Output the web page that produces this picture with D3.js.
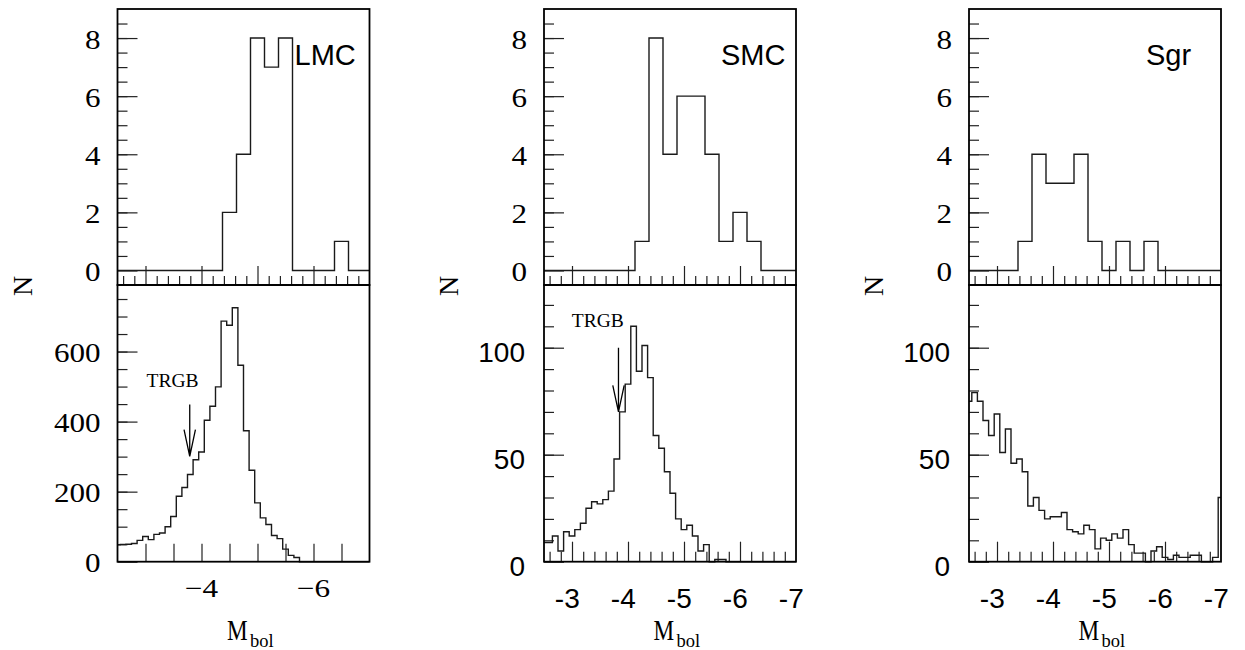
<!DOCTYPE html>
<html><head><meta charset="utf-8">
<script src="https://cdn.jsdelivr.net/npm/d3@7"></script>
<style>html,body{margin:0;padding:0;background:#fff;} svg{display:block;}</style>
</head><body>
<svg id="chart" width="1245" height="650"></svg>
<script>
// ---------------- DATA ----------------
const galaxies = ["LMC", "SMC", "Sgr"];

// upper histograms: bin centres (Mbol), 0.25 mag bins
const topCenters = [-2.5,-2.75,-3,-3.25,-3.5,-3.75,-4,-4.25,-4.5,-4.75,-5,-5.25,-5.5,-5.75,-6,-6.25,-6.5,-6.75,-7];
const lmcTop = [0,0,0,0,0,0,0,0,2,4,8,7,8,0,0,0,1,0,0];
const smcTop = [0,0,0,0,0,0,0,1,8,4,6,6,4,1,2,1,0,0,0];
const sgrTop = [0,0,0,0,1,4,3,3,4,1,0,1,0,1,0,0,0,0,0];

// lower histograms: bin centres (Mbol), 0.1 mag bins
const botCenters = [-2.5,-2.6,-2.7,-2.8,-2.9,-3.0,-3.1,-3.2,-3.3,-3.4,-3.5,-3.6,-3.7,-3.8,-3.9,
  -4.0,-4.1,-4.2,-4.3,-4.4,-4.5,-4.6,-4.7,-4.8,-4.9,-5.0,-5.1,-5.2,-5.3,-5.4,-5.5,-5.6,-5.7,-5.8,-5.9,
  -6.0,-6.1,-6.2,-6.3,-6.4,-6.5,-6.6,-6.7,-6.8,-6.9,-7.0];
const lmcBot = [48,49,50,52,61,72,63,78,82,100,129,187,212,249,291,
  313,404,444,499,687,675,725,561,374,261,168,125,106,75,66,36,18,12,0,0,
  0,0,0,0,0,0,0,0,0,0,0];
const smcBot = [9,9,12,5,14,12,15,18,25,28,27,29,33,48,70,
  83,110,89,101,86,59,53,42,32,20,15,17,12,5,8,0,1,1,0,0,
  0,0,0,0,0,0,0,0,0,0,0];
const sgrBot = [75,79,75,66,59,69,51,62,46,48,42,26,30,24,20,
  21,21,23,15,14,13,17,15,6,11,10,13,11,15,8,4,4,0,5,7,
  2,1,3,2,2,3,3,0,0,2,30];

// axis ranges and tick labels
const xDomain = [-2.5, -7];
const topYDomain = [-0.5, 9];
const topYLabels = [0, 2, 4, 6, 8];
const lmcBotMax = 790, lmcBotLabels = [0, 200, 400, 600];
const smcBotMax = 129.3, smcBotLabels = [0, 50, 100];
const sgrBotMax = 129.3, sgrBotLabels = [0, 50, 100];
const lmcXLabels = [-4, -6];
const mcXLabels = [-3, -4, -5, -6, -7];

// TRGB annotations (Mbol of arrow, N of arrow top / tip, label anchor)
const trgbLMC = {mag: -3.79, top: 449, tip: 301, labMag: -3.02, labN: 498};
const trgbSMC = {mag: -3.83, top: 100, tip: 70, labMag: -2.995, labN: 109.5};

// ---------------- LAYOUT ----------------
const TOP = 9, MID = 285, BOT = 561.7, W = 252;
const SERIF = "'Liberation Serif', 'Times New Roman', serif";
const SANS = "'Liberation Sans', Arial, sans-serif";

const panels = [
  {name: galaxies[0], left: 117.5, top: lmcTop, bot: lmcBot, botMax: lmcBotMax, botLabels: lmcBotLabels,
   botMinor: 50, serifBot: true, xLabels: lmcXLabels, lmcStyle: true, trgb: trgbLMC},
  {name: galaxies[1], left: 544, top: smcTop, bot: smcBot, botMax: smcBotMax, botLabels: smcBotLabels,
   botMinor: 10, serifBot: false, xLabels: mcXLabels, lmcStyle: false, trgb: trgbSMC},
  {name: galaxies[2], left: 969, top: sgrTop, bot: sgrBot, botMax: sgrBotMax, botLabels: sgrBotLabels,
   botMinor: 10, serifBot: false, xLabels: mcXLabels, lmcStyle: false, trgb: null}
];

const svg = d3.select("#chart");
svg.append("rect").attr("width", 1245).attr("height", 650).attr("fill", "#fff");

function steps(centers, vals, w) {
  const clamp = e => Math.max(-7, Math.min(-2.5, e));
  const pts = centers.map((c, i) => [clamp(c + w / 2), vals[i]]);
  pts.push([clamp(centers[centers.length - 1] - w / 2), vals[vals.length - 1]]);
  return pts;
}
function styleTicks(sel) {
  sel.select(".domain").remove();
  sel.selectAll("line").attr("stroke", "#222").attr("stroke-width", 1.2);
}

panels.forEach(p => {
  const g = svg.append("g");
  const x = d3.scaleLinear().domain(xDomain).range([p.left, p.left + W]);
  const yT = d3.scaleLinear().domain(topYDomain).range([MID, TOP]);
  const yB = d3.scaleLinear().domain([0, p.botMax]).range([BOT, MID]);

  // ---- ticks: left axes
  g.append("g").attr("transform", `translate(${p.left},0)`)
    .call(d3.axisLeft(yT).tickValues(d3.range(0.5, 8.6, 0.5)).tickSize(-10).tickFormat(""))
    .call(styleTicks);
  g.append("g").attr("transform", `translate(${p.left},0)`)
    .call(d3.axisLeft(yT).tickValues(topYLabels).tickSize(-20).tickFormat(""))
    .call(styleTicks);
  g.append("g").attr("transform", `translate(${p.left},0)`)
    .call(d3.axisLeft(yB).tickValues(d3.range(p.botMinor, p.botMax, p.botMinor)).tickSize(-10).tickFormat(""))
    .call(styleTicks);
  g.append("g").attr("transform", `translate(${p.left},0)`)
    .call(d3.axisLeft(yB).tickValues(p.botLabels).tickSize(-20).tickFormat(""))
    .call(styleTicks);

  // ---- ticks: bottom of upper panel
  const minor02 = d3.range(-2.6, -6.95, -0.2).filter(v => Math.abs(v - Math.round(v)) > 0.01);
  g.append("g").attr("transform", `translate(0,${MID})`)
    .call(d3.axisBottom(x).tickValues(minor02).tickSize(-9).tickFormat(""))
    .call(styleTicks);
  g.append("g").attr("transform", `translate(0,${MID})`)
    .call(d3.axisBottom(x).tickValues([-3, -4, -5, -6]).tickSize(-19).tickFormat(""))
    .call(styleTicks);

  // ---- ticks: bottom of lower panel
  if (p.lmcStyle) {
    g.append("g").attr("transform", `translate(0,${BOT})`)
      .call(d3.axisBottom(x).tickValues(d3.range(-3, -6.6, -0.5)).tickSize(-18).tickFormat(""))
      .call(styleTicks);
  } else {
    g.append("g").attr("transform", `translate(0,${BOT})`)
      .call(d3.axisBottom(x).tickValues(minor02).tickSize(-10).tickFormat(""))
      .call(styleTicks);
    g.append("g").attr("transform", `translate(0,${BOT})`)
      .call(d3.axisBottom(x).tickValues([-3, -4, -5, -6]).tickSize(-20).tickFormat(""))
      .call(styleTicks);
  }

  // ---- histograms
  const lineT = d3.line().x(d => x(d[0])).y(d => yT(d[1])).curve(d3.curveStepAfter);
  const lineB = d3.line().x(d => x(d[0])).y(d => yB(d[1])).curve(d3.curveStepAfter);
  g.append("path").attr("d", lineT(steps(topCenters, p.top, 0.25)))
    .attr("fill", "none").attr("stroke", "#1a1a1a").attr("stroke-width", 1.4);
  g.append("path").attr("d", lineB(steps(botCenters, p.bot, 0.1)))
    .attr("fill", "none").attr("stroke", "#1a1a1a").attr("stroke-width", 1.4);

  // ---- frames
  g.append("rect").attr("x", p.left).attr("y", TOP).attr("width", W).attr("height", MID - TOP)
    .attr("fill", "none").attr("stroke", "#000").attr("stroke-width", 1.8);
  g.append("rect").attr("x", p.left).attr("y", MID).attr("width", W).attr("height", BOT - MID)
    .attr("fill", "none").attr("stroke", "#000").attr("stroke-width", 1.8);

  // ---- y tick labels (upper: serif)
  topYLabels.forEach(v => {
    g.append("text").attr("transform", `translate(${p.left - 17},${yT(v) + 10.5}) scale(1.15,1)`)
      .attr("text-anchor", "end").attr("font-family", SERIF).attr("font-size", 27).attr("fill", "#000")
      .text(v);
  });
  // lower
  p.botLabels.forEach(v => {
    if (p.serifBot) {
      g.append("text").attr("transform", `translate(${p.left - 17},${yB(v) + 10}) scale(1.15,1)`)
        .attr("text-anchor", "end").attr("font-family", SERIF).attr("font-size", 27).attr("fill", "#000")
        .text(v);
    } else {
      g.append("text").attr("x", p.left - 19).attr("y", yB(v) + 14)
        .attr("text-anchor", "end").attr("font-family", SANS).attr("font-size", 28).attr("fill", "#000")
        .text(v);
    }
  });

  // ---- x tick labels
  p.xLabels.forEach(v => {
    if (p.lmcStyle) {
      g.append("text").attr("transform", `translate(${x(v)},597) scale(1.2,1)`)
        .attr("text-anchor", "middle").attr("font-family", SERIF).attr("font-size", 26).attr("fill", "#000")
        .text("\u2212" + Math.abs(v));
    } else {
      g.append("text").attr("x", x(v) - 4.7).attr("y", 608)
        .attr("text-anchor", "middle").attr("font-family", SANS).attr("font-size", 28).attr("fill", "#000")
        .text("-" + Math.abs(v));
    }
  });

  // ---- axis titles
  g.append("text").attr("transform", `translate(${p.left - 86},286) rotate(-90)`)
    .attr("text-anchor", "middle").attr("font-family", SERIF).attr("font-size", 28).attr("fill", "#000")
    .text("N");
  const cx = p.left + W / 2;
  g.append("text").attr("transform", `translate(${cx - 16.5},640) scale(0.8,1)`)
    .attr("font-family", SERIF).attr("font-size", 29).attr("fill", "#000").text("M");
  g.append("text").attr("x", cx + 6.5).attr("y", 646.7)
    .attr("font-family", SERIF).attr("font-size", 18.5).attr("fill", "#000").text("bol");

  // ---- galaxy name
  g.append("text").attr("x", p.left + 177).attr("y", 65)
    .attr("font-family", SANS).attr("font-size", 29).attr("fill", "#000").text(p.name);

  // ---- TRGB arrow
  if (p.trgb) {
    const t = p.trgb;
    const ax = x(t.mag), ay0 = yB(t.top), ay1 = yB(t.tip);
    g.append("path")
      .attr("d", `M${ax},${ay0}L${ax},${ay1}M${ax - 5.7},${ay1 - 26.6}L${ax},${ay1}L${ax + 5.7},${ay1 - 26.6}`)
      .attr("fill", "none").attr("stroke", "#000").attr("stroke-width", 1.3);
    g.append("text").attr("x", x(t.labMag)).attr("y", yB(t.labN))
      .attr("font-family", SERIF).attr("font-size", 19.5).attr("fill", "#000").text("TRGB");
  }
});
</script>
</body></html>
